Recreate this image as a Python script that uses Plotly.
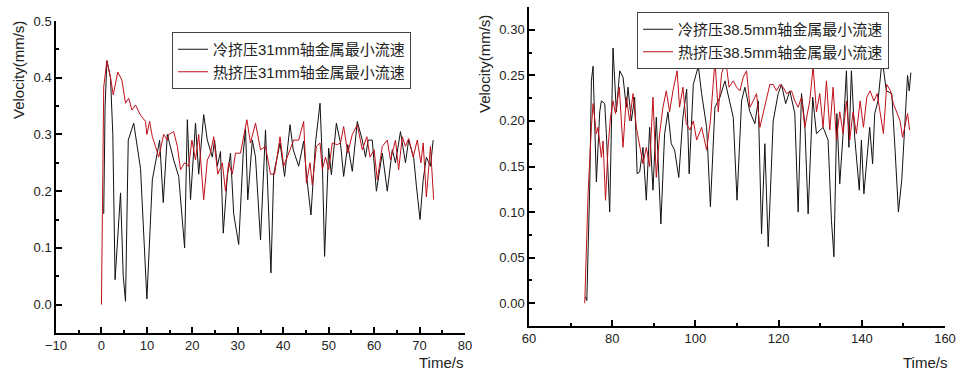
import plotly.graph_objects as go

# ---- Left panel (31 mm) ----
t_cold31 = [0.5, 0.8, 1.2, 2.0, 2.5, 3.0, 3.6, 4.2, 4.8, 5.3, 5.9, 7.1, 8.6, 10.0, 11.2, 12.8, 13.6, 14.5,
            15.9, 17.0, 18.3, 18.9, 19.6, 20.7, 21.4, 22.5, 23.3, 24.4, 24.9, 25.5, 26.2, 26.8, 27.7, 28.4,
            29.1, 30.2, 31.2, 31.7, 32.2, 33.2, 33.9, 35.0, 36.1, 36.8, 37.3, 37.9, 39.3, 40.3, 41.5, 42.2,
            43.4, 44.5, 45.1, 46.1, 47.1, 48.1, 48.6, 49.1, 50.0, 50.6, 51.7, 52.6, 53.3, 54.2, 55.2, 56.3,
            57.4, 58.1, 58.7, 59.6, 60.5, 61.8, 62.9, 64.0, 64.7, 65.8, 66.9, 67.6, 68.7, 69.3, 70.1, 70.8,
            71.5, 72.4, 73.0]
v_cold31 = [0.16, 0.35, 0.43, 0.40, 0.30, 0.044, 0.12, 0.197, 0.05, 0.006, 0.29, 0.32, 0.24, 0.01, 0.22,
            0.29, 0.18, 0.30, 0.255, 0.226, 0.10, 0.326, 0.185, 0.32, 0.23, 0.335, 0.29, 0.26, 0.29, 0.244,
            0.27, 0.126, 0.226, 0.267, 0.16, 0.106, 0.267, 0.31, 0.185, 0.29, 0.26, 0.114, 0.308, 0.173,
            0.056, 0.23, 0.285, 0.226, 0.317, 0.273, 0.244, 0.288, 0.23, 0.158, 0.285, 0.355, 0.255, 0.085,
            0.276, 0.229, 0.32, 0.285, 0.226, 0.282, 0.235, 0.323, 0.29, 0.26, 0.29, 0.29, 0.20, 0.267, 0.20,
            0.273, 0.25, 0.305, 0.25, 0.29, 0.26, 0.21, 0.15, 0.22, 0.26, 0.244, 0.29]

t_hot31 = [0.0, 0.5, 1.2, 2.0, 2.6, 3.6, 4.5, 5.3, 6.0, 6.7, 7.5, 8.6, 9.7, 10.0, 10.6, 11.2, 11.9, 12.6,
           13.7, 14.5, 14.8, 15.9, 16.7, 17.4, 18.3, 19.2, 19.9, 20.7, 21.4, 22.5, 23.3, 24.0, 24.7, 25.6,
           26.6, 27.3, 28.0, 28.8, 29.5, 30.6, 32.0, 32.8, 33.9, 35.0, 36.1, 37.2, 38.1, 39.3, 40.1, 41.6,
           42.3, 43.4, 44.5, 45.1, 45.9, 46.4, 47.3, 48.1, 48.6, 49.3, 50.0, 50.8, 51.9, 52.6, 53.3, 54.2,
           55.2, 56.3, 57.4, 58.4, 59.1, 60.0, 60.7, 61.8, 62.9, 63.6, 64.7, 65.4, 66.2, 66.9, 67.6, 68.6,
           69.5, 70.3, 70.8, 71.5, 72.4, 73.1]
v_hot31 = [0.0, 0.384, 0.43, 0.40, 0.37, 0.41, 0.396, 0.355, 0.364, 0.343, 0.352, 0.334, 0.323, 0.30, 0.323,
           0.296, 0.279, 0.26, 0.30, 0.29, 0.30, 0.305, 0.279, 0.238, 0.25, 0.244, 0.29, 0.255, 0.30, 0.185,
           0.255, 0.267, 0.296, 0.23, 0.25, 0.20, 0.25, 0.23, 0.267, 0.267, 0.326, 0.285, 0.32, 0.273, 0.279,
           0.23, 0.23, 0.296, 0.244, 0.273, 0.29, 0.29, 0.323, 0.214, 0.25, 0.211, 0.279, 0.285, 0.238, 0.26,
           0.238, 0.285, 0.282, 0.285, 0.314, 0.267, 0.30, 0.317, 0.273, 0.296, 0.26, 0.273, 0.22, 0.279,
           0.29, 0.255, 0.29, 0.238, 0.296, 0.279, 0.293, 0.26, 0.29, 0.25, 0.285, 0.19, 0.279, 0.185]

# ---- Right panel (38.5 mm) ----
t_cold385 = [73.6, 73.9, 74.6, 75.0, 75.4, 76.2, 77.0, 77.4, 78.2, 78.6, 79.4, 80.2, 81.0, 81.8, 82.6, 83.4,
             83.8, 84.6, 85.4, 86.0, 86.6, 87.4, 88.2, 89.0, 89.8, 90.6, 91.7, 92.6, 93.4, 94.2, 95.0, 96.0,
             97.0, 97.9, 98.5, 99.5, 100.7, 101.5, 102.7, 103.6, 104.7, 105.9, 107.1, 108.1, 109.1, 110.0,
             111.1, 111.9, 113.1, 114.3, 115.1, 115.9, 116.7, 117.5, 118.7, 119.9, 120.7, 121.7, 122.7,
             123.9, 124.7, 125.5, 126.3, 127.1, 128.2, 129.1, 130.7, 131.9, 132.7, 133.3, 134.0, 134.7,
             135.5, 136.3, 136.9, 137.5, 138.3, 139.4, 139.9, 140.5, 141.3, 141.9, 142.6, 143.1, 143.9,
             144.9, 145.9, 147.2, 148.0, 148.8, 149.6, 150.4, 151.0, 151.4, 151.8]
v_cold385 = [0.007, 0.003, 0.128, 0.244, 0.26, 0.133, 0.21, 0.222, 0.219, 0.186, 0.10, 0.28, 0.21, 0.255,
             0.248, 0.215, 0.237, 0.20, 0.226, 0.142, 0.144, 0.171, 0.113, 0.193, 0.124, 0.204, 0.087, 0.186,
             0.21, 0.175, 0.168, 0.138, 0.204, 0.235, 0.142, 0.24, 0.26, 0.23, 0.193, 0.106, 0.215, 0.226,
             0.244, 0.222, 0.204, 0.113, 0.222, 0.237, 0.21, 0.197, 0.222, 0.076, 0.175, 0.062, 0.20, 0.23,
             0.24, 0.219, 0.233, 0.208, 0.10, 0.23, 0.197, 0.098, 0.226, 0.186, 0.193, 0.179, 0.091, 0.051,
             0.208, 0.131, 0.186, 0.255, 0.171, 0.255, 0.182, 0.124, 0.179, 0.12, 0.157, 0.193, 0.153, 0.208,
             0.222, 0.268, 0.233, 0.23, 0.168, 0.10, 0.135, 0.21, 0.25, 0.233, 0.253]

t_hot385 = [73.4, 74.2, 75.0, 75.4, 76.2, 76.6, 77.4, 77.8, 78.4, 79.0, 79.6, 80.2, 80.8, 81.7, 82.6, 83.4,
            84.2, 85.0, 85.8, 86.6, 87.4, 88.2, 89.0, 89.8, 90.6, 91.4, 92.2, 93.0, 93.8, 94.6, 95.6, 96.2,
            97.0, 97.8, 98.7, 99.5, 100.3, 101.5, 102.7, 103.6, 104.7, 105.5, 106.3, 107.3, 108.1, 109.1,
            109.9, 110.7, 111.5, 112.3, 113.1, 113.9, 114.7, 115.5, 116.3, 117.1, 117.9, 118.7, 119.5,
            120.3, 121.1, 121.9, 123.1, 123.9, 124.7, 125.5, 126.3, 127.5, 128.3, 129.1, 129.9, 130.7,
            131.5, 132.3, 133.1, 133.9, 134.7, 135.5, 136.3, 137.1, 137.9, 138.7, 139.6, 140.4, 141.2,
            142.0, 142.9, 143.7, 144.4, 145.2, 146.0, 146.9, 147.6, 148.4, 149.2, 149.8, 150.6, 151.0, 151.5]
v_hot385 = [0.0, 0.12, 0.193, 0.219, 0.186, 0.193, 0.16, 0.178, 0.113, 0.171, 0.204, 0.222, 0.208, 0.237,
            0.171, 0.226, 0.20, 0.23, 0.193, 0.171, 0.153, 0.171, 0.15, 0.226, 0.138, 0.186, 0.215, 0.233,
            0.21, 0.233, 0.255, 0.215, 0.237, 0.197, 0.19, 0.20, 0.179, 0.193, 0.168, 0.20, 0.266, 0.21,
            0.252, 0.266, 0.237, 0.244, 0.237, 0.233, 0.248, 0.255, 0.215, 0.222, 0.23, 0.193, 0.208, 0.226,
            0.24, 0.24, 0.233, 0.24, 0.237, 0.23, 0.233, 0.222, 0.215, 0.226, 0.193, 0.222, 0.26, 0.21, 0.23,
            0.193, 0.244, 0.19, 0.237, 0.179, 0.21, 0.186, 0.222, 0.179, 0.21, 0.186, 0.222, 0.193, 0.226,
            0.233, 0.222, 0.23, 0.21, 0.186, 0.24, 0.233, 0.219, 0.21, 0.20, 0.182, 0.20, 0.208, 0.19]

name_cold31 = "冷挤压31mm轴金属最小流速"
name_hot31 = "热挤压31mm轴金属最小流速"
name_cold385 = "冷挤压38.5mm轴金属最小流速"
name_hot385 = "热挤压38.5mm轴金属最小流速"

BLACK = "#111111"
RED = "#c0101a"
FONT = "Liberation Sans, Arial, Noto Sans CJK SC, sans-serif"

fig = go.Figure()
fig.add_trace(go.Scatter(x=t_cold31, y=v_cold31, mode="lines", name=name_cold31,
                         line=dict(color=BLACK, width=1), xaxis="x", yaxis="y", legend="legend"))
fig.add_trace(go.Scatter(x=t_hot31, y=v_hot31, mode="lines", name=name_hot31,
                         line=dict(color=RED, width=1), xaxis="x", yaxis="y", legend="legend"))
fig.add_trace(go.Scatter(x=t_cold385, y=v_cold385, mode="lines", name=name_cold385,
                         line=dict(color=BLACK, width=1), xaxis="x2", yaxis="y2", legend="legend2"))
fig.add_trace(go.Scatter(x=t_hot385, y=v_hot385, mode="lines", name=name_hot385,
                         line=dict(color=RED, width=1), xaxis="x2", yaxis="y2", legend="legend2"))

W, H = 965, 376
axis_common = dict(showline=True, linecolor="black", linewidth=1.5, ticks="inside", ticklen=6,
                   tickwidth=1.5, tickcolor="black", showgrid=False, zeroline=False, automargin=False,
                   tickfont=dict(family=FONT, size=13, color="#222"))
minor_common = dict(ticks="inside", ticklen=3, tickcolor="black", tickwidth=1.5)

fig.update_layout(
    width=W, height=H, margin=dict(l=0, r=0, t=0, b=0, pad=0, autoexpand=False),
    paper_bgcolor="white", plot_bgcolor="white",
    font=dict(family=FONT),
    xaxis=dict(domain=[56 / W, 465 / W], range=[-10, 80], dtick=10, anchor="y",
               minor=dict(dtick=5, **minor_common), **axis_common),
    yaxis=dict(domain=[1 - 333 / H, 1 - 21 / H], range=[-0.05, 0.5], dtick=0.1, tickformat=".1f",
               anchor="x", minor=dict(dtick=0.05, **minor_common), **axis_common),
    xaxis2=dict(domain=[529 / W, 945 / W], range=[60, 160], dtick=20, anchor="y2",
                minor=dict(dtick=10, **minor_common), **axis_common),
    yaxis2=dict(domain=[1 - 326 / H, 1 - 7 / H], range=[-0.025, 0.325], dtick=0.05, tickformat=".2f",
                anchor="x2", minor=dict(dtick=0.025, **minor_common), **axis_common),
    legend=dict(x=172 / W, y=1 - 32 / H, xanchor="left", yanchor="top", bgcolor="white",
                bordercolor="#444", borderwidth=1, font=dict(family=FONT, size=15, color="#222"),
                tracegroupgap=0, itemwidth=30),
    legend2=dict(x=637 / W, y=1 - 12 / H, xanchor="left", yanchor="top", bgcolor="white",
                 bordercolor="#444", borderwidth=1, font=dict(family=FONT, size=15, color="#222"),
                 tracegroupgap=0, itemwidth=30),
    annotations=[
        dict(text="Velocity(mm/s)", x=18 / W, y=1 - 70 / H, xref="paper", yref="paper", textangle=-90,
             xanchor="center", yanchor="middle",
             showarrow=False, font=dict(family=FONT, size=15, color="#222")),
        dict(text="Velocity(mm/s)", x=484 / W, y=1 - 64 / H, xref="paper", yref="paper", textangle=-90,
             xanchor="center", yanchor="middle",
             showarrow=False, font=dict(family=FONT, size=15, color="#222")),
        dict(text="Time/s", x=465 / W, y=1 - 352 / H, xref="paper", yref="paper",
             xanchor="right", yanchor="top",
             showarrow=False, font=dict(family=FONT, size=15, color="#222")),
        dict(text="Time/s", x=949 / W, y=1 - 352 / H, xref="paper", yref="paper",
             xanchor="right", yanchor="top",
             showarrow=False, font=dict(family=FONT, size=15, color="#222")),
    ],
)

fig.write_html("out.html", config={"displayModeBar": False},
               post_script="document.body.style.margin='0';document.body.style.overflow='hidden';")
